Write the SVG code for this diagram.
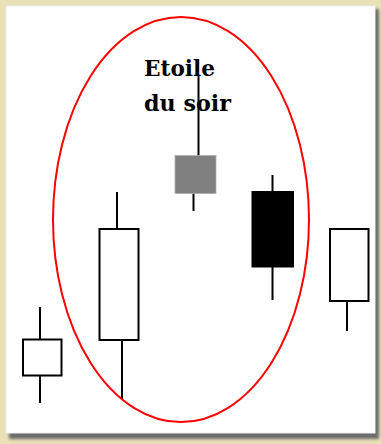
<svg xmlns="http://www.w3.org/2000/svg" width="381" height="444" viewBox="0 0 381 444">
  <defs>
    <filter id="shadow" x="-10%" y="-10%" width="120%" height="120%">
      <feGaussianBlur stdDeviation="1.5"/>
    </filter>
    <style>
      .wick { stroke: #000; stroke-width: 2; fill: none; }
      .body { stroke: #000; stroke-width: 2; }
      .label { font-family: "DejaVu Serif", "Liberation Serif", serif; font-weight: bold; font-size: 22px; fill: #000; }
    </style>
  </defs>
  <rect x="0" y="0" width="381" height="444" fill="#e9e0b8"/>
  <rect x="9" y="9" width="370" height="430" fill="#6a6a6a" filter="url(#shadow)"/>
  <rect x="6" y="6" width="369" height="427" fill="#ffffff" stroke="#f0f0f0" stroke-width="1"/>

  <g id="connectors"></g>

  <g id="candle1">
    <line class="wick" x1="40" y1="307" x2="40" y2="403"/>
    <rect class="body" x="23" y="339.5" width="38.5" height="36" fill="#ffffff"/>
  </g>

  <g id="candle2">
    <line class="wick" x1="117" y1="192" x2="117" y2="229"/>
    <line class="wick" x1="122" y1="340" x2="122" y2="399"/>
    <rect class="body" x="99.5" y="229" width="39" height="111" fill="#ffffff"/>
  </g>

  <g id="candle3">
    <line class="wick" x1="198.5" y1="75" x2="198.5" y2="156"/>
    <line class="wick" x1="193.5" y1="193" x2="193.5" y2="211"/>
    <rect x="175" y="155.5" width="41" height="38" fill="#808080" stroke="#b0b0b0" stroke-width="0.8"/>
  </g>

  <g id="candle4">
    <line class="wick" x1="272.5" y1="175" x2="272.5" y2="300"/>
    <rect class="body" x="252.5" y="192" width="40.5" height="74.5" fill="#000000"/>
  </g>

  <g id="candle5">
    <line class="wick" x1="347" y1="301" x2="347" y2="331"/>
    <rect class="body" x="330" y="229" width="38.5" height="72" fill="#ffffff"/>
  </g>

  <g id="ellipse">
    <ellipse cx="181" cy="219.5" rx="128" ry="202.5" fill="none" stroke="#ff0000" stroke-width="2"/>
  </g>

  <g id="title">
    <text class="label" x="144" y="76" textLength="71" lengthAdjust="spacingAndGlyphs">Etoile</text>
    <text class="label" x="144" y="111" textLength="87" lengthAdjust="spacingAndGlyphs">du soir</text>
  </g>
</svg>
